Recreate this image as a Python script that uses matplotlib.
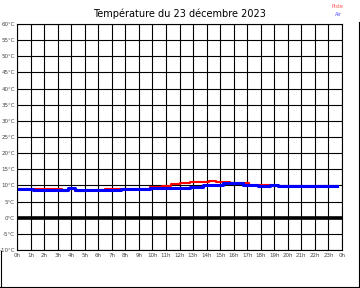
import matplotlib as mpl
mpl.use('Agg')
import matplotlib.pyplot as plt
from matplotlib.lines import Line2D

title = 'Température du 23 décembre 2023'

# Piste (track) temperature, step series: hour -> value
piste_h = [0.0, 2.0, 3.3, 3.8, 4.3, 5.0, 6.5, 9.3, 9.8, 10.7, 11.4, 12.0, 12.3, 12.8,
           14.2, 14.7, 15.7, 16.7, 17.1, 17.8, 18.8, 21.2, 22.3, 23.6]
piste_t = [8.8, 8.8, 8.3, 9.0, 8.4, 8.6, 8.8, 8.8, 9.4, 9.8, 10.4, 10.6, 10.9, 11.2,
           11.5, 11.2, 10.9, 10.6, 10.2, 10.0, 9.7, 9.4, 9.7, 9.7]

# Air temperature
air_h = [0.0, 1.2, 1.8, 3.3, 3.8, 4.3, 4.8, 7.7, 9.3, 9.8, 11.8, 12.8, 13.7,
         14.2, 15.2, 16.7, 17.8, 18.7, 19.3, 23.6]
air_t = [9.0, 8.7, 8.5, 8.7, 9.1, 8.7, 8.5, 8.8, 9.0, 9.3, 9.1, 9.6, 10.0,
         10.2, 10.6, 10.1, 9.7, 10.0, 9.7, 9.7]

hours = list(range(25))
hour_labels = ['%dh' % (h % 24) for h in hours]
temps = list(range(-10, 61, 5))
temp_labels = ['%d°C' % t for t in temps]

fig = plt.figure(figsize=(3.6, 2.88), dpi=100)
fig.patch.set_facecolor('white')
ax = fig.add_axes([17 / 360, 1 - 250 / 288, 325 / 360, 226 / 288])

ax.set_xlim(0, 24)
ax.set_ylim(-10, 60)
ax.set_xticks(hours)
ax.set_xticklabels(hour_labels)
ax.set_yticks(temps)
ax.set_yticklabels(temp_labels)
ax.tick_params(length=0, labelsize=4.0, labelcolor='#444444', pad=1.5)
ax.tick_params(axis='x', pad=2.5)
ax.grid(True, color='black', linewidth=0.8)
ax.set_axisbelow(True)
for s in ax.spines.values():
    s.set_linewidth(0.8)

ax.axhline(0, color='black', linewidth=2.6)

ax.plot(piste_h, piste_t, drawstyle='steps-post', color='#ff0000', linewidth=1.5)
ax.plot(air_h, air_t, drawstyle='steps-post', color='#0000ff', linewidth=2.2)

fig.text(179 / 360, 1 - 14 / 288, title, ha='center', va='center', fontsize=7)
fig.text(343 / 360, 1 - 7 / 288, 'Piste', ha='right', va='center', fontsize=3.6, color='#ff5050')
fig.text(342 / 360, 1 - 15 / 288, 'Air', ha='right', va='center', fontsize=3.6, color='#5050ff')

# partial outer frame seen on the image
def fline(x0, y0, x1, y1):
    fig.add_artist(Line2D([x0 / 360, x1 / 360], [1 - y0 / 288, 1 - y1 / 288],
                          transform=fig.transFigure, color='black', linewidth=0.8))

fline(0, 287, 359, 287)
fline(358.5, 22, 358.5, 287.5)
fline(0.5, 251, 0.5, 287.5)

fig.savefig('out.png', dpi=100)
